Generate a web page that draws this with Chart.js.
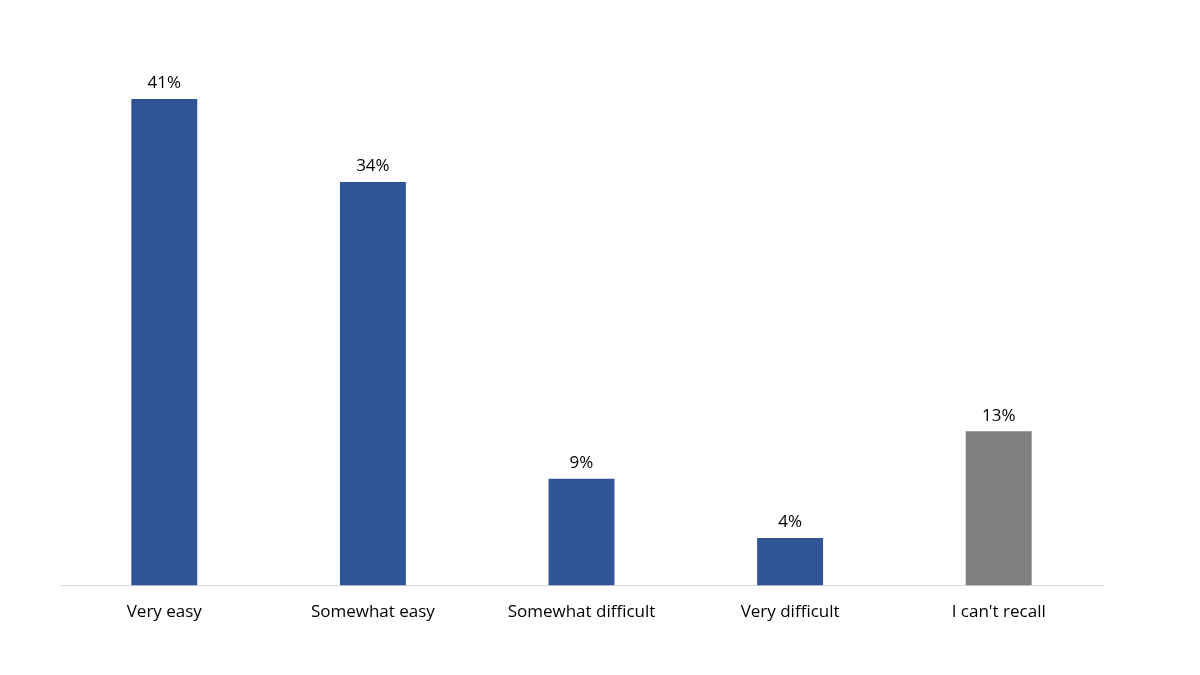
<!DOCTYPE html>
<html lang="en">
  <head>
    <meta charset="utf-8" />
    <title>Ease rating</title>
    <script src="https://cdn.jsdelivr.net/npm/chart.js"></script>
    <style>
      body {
        margin: 0;
        background-color: #fff;
      }
      .chart-box {
        width: 1200px;
        height: 675px;
      }
    </style>
  </head>
  <body>
    <div class="chart-box"><canvas id="easeChart"></canvas></div>
    <script>
      const categories = [
        "Very easy",
        "Somewhat easy",
        "Somewhat difficult",
        "Very difficult",
        "I can't recall",
      ];
      const values = [41, 34, 9, 4, 13];
      const barColors = ["#2f5597", "#2f5597", "#2f5597", "#2f5597", "#7f7f7f"];

      // etykiety wartości nad słupkami
      const valueLabels = {
        id: "valueLabels",
        afterDatasetsDraw: (chart) => {
          const ctx = chart.ctx;
          const meta = chart.getDatasetMeta(0);
          ctx.save();
          ctx.font = "17px 'Open Sans'";
          ctx.fillStyle = "#000";
          ctx.textAlign = "center";
          ctx.textBaseline = "bottom";
          meta.data.forEach((bar, i) => {
            ctx.fillText(values[i] + "%", bar.x, bar.y - 7);
          });
          ctx.restore();
        },
      };

      new Chart(document.getElementById("easeChart"), {
        type: "bar",
        data: {
          labels: categories,
          datasets: [
            {
              data: values,
              backgroundColor: barColors,
              barPercentage: 1,
              categoryPercentage: 0.316,
            },
          ],
        },
        options: {
          responsive: true,
          maintainAspectRatio: false,
          animation: false,
          plugins: {
            legend: { display: false },
            tooltip: { enabled: false },
          },
          scales: {
            y: {
              display: false,
              min: 0,
              max: 44.2,
            },
            x: {
              grid: { display: false },
              border: { display: true, color: "#d9d9d9", width: 1 },
              ticks: {
                color: "#000",
                padding: 8,
                font: { family: "'Open Sans'", size: 17 },
              },
            },
          },
          layout: { padding: { left: 60, right: 97, top: 61, bottom: 45 } },
        },
        plugins: [valueLabels],
      });
    </script>
  </body>
</html>
